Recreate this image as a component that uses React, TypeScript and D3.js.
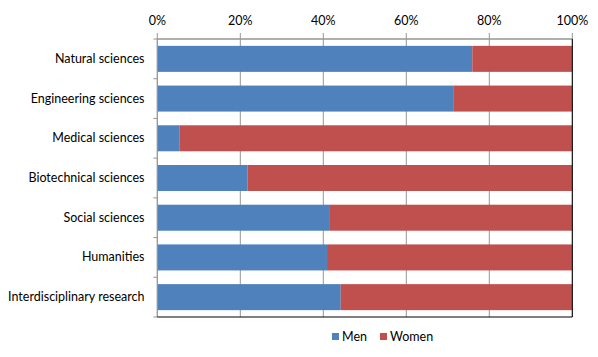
import React from "react";
import * as d3 from "d3";

const categories = [
  "Natural sciences",
  "Engineering sciences",
  "Medical sciences",
  "Biotechnical sciences",
  "Social sciences",
  "Humanities",
  "Interdisciplinary research",
];
const men = [75.9, 71.3, 5.3, 21.7, 41.4, 40.9, 44.2];
const women = men.map((m) => 100 - m);
const ticks = [0, 20, 40, 60, 80, 100];
const seriesNames = ["Men", "Women"];
const colors = ["#4F81BD", "#C0504D"];

export default function App() {
  const W = 598, H = 357;
  const left = 157.3, right = 572.3, top = 39, bottom = 317;
  const x = d3.scaleLinear().domain([0, 100]).range([left, right]);
  const y = d3.scaleBand<string>().domain(categories).range([top, bottom]).paddingInner(0.345).paddingOuter(0.1725);
  const font = "Lato, 'Open Sans', sans-serif";
  const step = y.step();
  return (
    <svg width={W} height={H} style={{ position: "absolute", left: 0, top: 0 }} fontFamily={font}>
      <rect width={W} height={H} fill="#fff" />
      {ticks.map((t) => (
        <g key={t}>
          <line x1={x(t)} x2={x(t)} y1={top - 6} y2={bottom} stroke="#959595" strokeWidth={1} />
          <text x={x(t)} y={25} textAnchor="middle" fontSize={12.5} fill="#000">{t}%</text>
        </g>
      ))}
      {categories.map((c, i) => (
        <g key={c}>
          <rect x={x(0)} y={y(c)} width={x(men[i]) - x(0)} height={y.bandwidth()} fill={colors[0]} />
          <rect x={x(men[i])} y={y(c)} width={x(100) - x(men[i])} height={y.bandwidth()} fill={colors[1]} />
          <text x={144.5} y={(y(c) as number) + y.bandwidth() / 2 + 4} textAnchor="end" fontSize={12.5} fill="#000">{c}</text>
        </g>
      ))}
      {d3.range(categories.length + 1).map((i) => (
        <line key={i} x1={left - 4} x2={left} y1={top + i * step} y2={top + i * step} stroke="#959595" />
      ))}
      <line x1={left} x2={right} y1={top} y2={top} stroke="#959595" strokeWidth={1.5} />
      <line x1={left} x2={left} y1={top} y2={bottom} stroke="#959595" />
      <line x1={right} x2={right} y1={top} y2={bottom} stroke="#000" />
      <line x1={left} x2={right} y1={bottom} y2={bottom} stroke="#000" />
      {seriesNames.map((s, i) => {
        const lx = [332, 380][i];
        return (
          <g key={s}>
            <rect x={lx} y={333} width={7} height={7} fill={colors[i]} />
            <text x={lx + 10} y={341} fontSize={12.5} fill="#000">{s}</text>
          </g>
        );
      })}
    </svg>
  );
}
